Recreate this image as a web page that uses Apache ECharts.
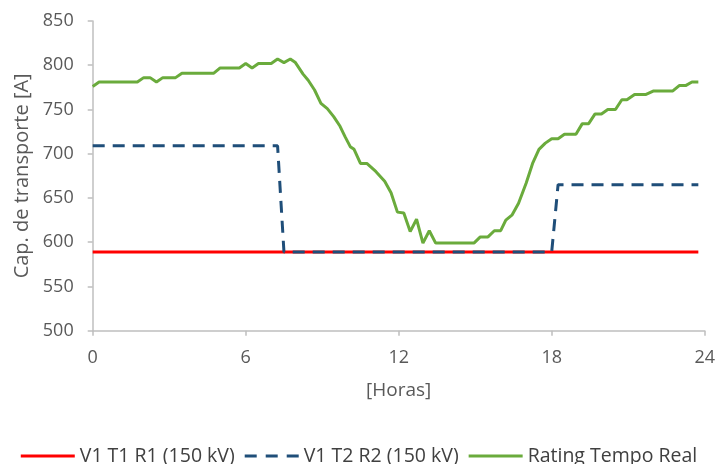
<!DOCTYPE html>
<html>
<head>
<meta charset="utf-8">
<script src="https://cdn.jsdelivr.net/npm/echarts@6/dist/echarts.min.js"></script>
<style>
html,body{margin:0;padding:0;background:#fff;}
#c{width:718px;height:464px;}
</style>
</head>
<body>
<div id="c"></div>
<script>
// Series names
var seriesNames = ['V1 T1 R1 (150 kV)', 'V1 T2 R2 (150 kV)', 'Rating Tempo Real'];
// Axis ticks
var xTicks = [0, 6, 12, 18, 24];
var yTicks = [500, 550, 600, 650, 700, 750, 800, 850];
// [hour, A]
var red = [[0, 589], [23.75, 589]];
var blue = [[0, 709], [7.25, 709], [7.5, 589], [18.0, 589], [18.25, 665], [23.75, 665]];
var green = [
  [0, 776], [0.25, 781], [1.75, 781], [2.0, 786], [2.25, 786], [2.5, 781], [2.75, 786],
  [3.25, 786], [3.5, 791], [4.75, 791], [5.0, 797], [5.75, 797], [6.0, 802], [6.25, 797],
  [6.5, 802], [7.0, 802], [7.25, 807], [7.5, 803], [7.75, 807], [7.95, 803], [8.25, 790],
  [8.45, 783], [8.7, 772], [8.95, 757], [9.2, 751], [9.45, 742], [9.7, 731], [9.9, 719],
  [10.1, 708], [10.25, 705], [10.5, 689], [10.75, 689], [11.1, 680], [11.45, 669],
  [11.7, 656], [11.95, 634], [12.2, 633], [12.45, 612], [12.7, 626], [12.95, 599],
  [13.2, 613], [13.45, 599], [14.95, 599], [15.2, 606], [15.5, 606], [15.75, 613],
  [16.0, 613], [16.2, 625], [16.45, 631], [16.7, 644], [17.0, 667], [17.25, 689],
  [17.5, 705], [17.75, 712], [18.0, 717], [18.25, 717], [18.5, 722], [18.95, 722],
  [19.2, 734], [19.45, 734], [19.7, 745], [19.95, 745], [20.2, 750], [20.5, 750],
  [20.75, 761], [20.95, 761], [21.25, 767], [21.7, 767], [22.0, 771], [22.75, 771],
  [23.0, 777], [23.25, 777], [23.5, 781], [23.75, 781]
];

var FONT = '"Open Sans", sans-serif';
var chart = echarts.init(document.getElementById('c'), null, {renderer: 'canvas'});
chart.setOption({
  animation: false,
  backgroundColor: '#ffffff',
  grid: {left: 92.7, right: 12.3, top: 21, bottom: 133.3},
  legend: {
    top: 441,
    left: 'center',
    itemWidth: 54,
    itemHeight: 3,
    itemGap: 10,
    textStyle: {color: '#404040', fontSize: 19.5, fontFamily: FONT},
    data: [
      {name: seriesNames[0], icon: 'rect'},
      {name: seriesNames[1], icon: 'path://M0,0H12V3H0Z M21,0H33V3H21Z M42,0H54V3H42Z'},
      {name: seriesNames[2], icon: 'rect'}
    ]
  },
  xAxis: {
    type: 'value', min: xTicks[0], max: xTicks[xTicks.length - 1], interval: 6,
    name: '[Horas]', nameLocation: 'middle', nameGap: 50,
    nameTextStyle: {color: '#595959', fontSize: 19, fontFamily: FONT},
    axisLine: {lineStyle: {color: '#bfbfbf', width: 1.5}},
    axisTick: {show: true, length: 5, lineStyle: {color: '#bfbfbf', width: 1.5}},
    axisLabel: {color: '#595959', fontSize: 18, fontFamily: FONT, margin: 18},
    splitLine: {show: false}
  },
  yAxis: {
    type: 'value', min: yTicks[0], max: yTicks[yTicks.length - 1], interval: 50,
    name: 'Cap. de transporte [A]', nameLocation: 'middle', nameGap: 60,
    nameTextStyle: {color: '#595959', fontSize: 20, fontFamily: FONT},
    axisLine: {show: true, lineStyle: {color: '#bfbfbf', width: 1.5}},
    axisTick: {show: true, length: 5, lineStyle: {color: '#bfbfbf', width: 1.5}},
    axisLabel: {color: '#595959', fontSize: 18, fontFamily: FONT, margin: 19},
    splitLine: {show: false}
  },
  series: [
    {name: seriesNames[0], type: 'line', data: red, symbol: 'none',
     lineStyle: {color: '#ff0000', width: 3}, itemStyle: {color: '#ff0000'}},
    {name: seriesNames[1], type: 'line', data: blue, symbol: 'none',
     lineStyle: {color: '#1f4e79', width: 3, type: [12, 8]}, itemStyle: {color: '#1f4e79'}},
    {name: seriesNames[2], type: 'line', data: green, symbol: 'none',
     lineStyle: {color: '#6aab3c', width: 3}, itemStyle: {color: '#6aab3c'}}
  ]
});
</script>
</body>
</html>
